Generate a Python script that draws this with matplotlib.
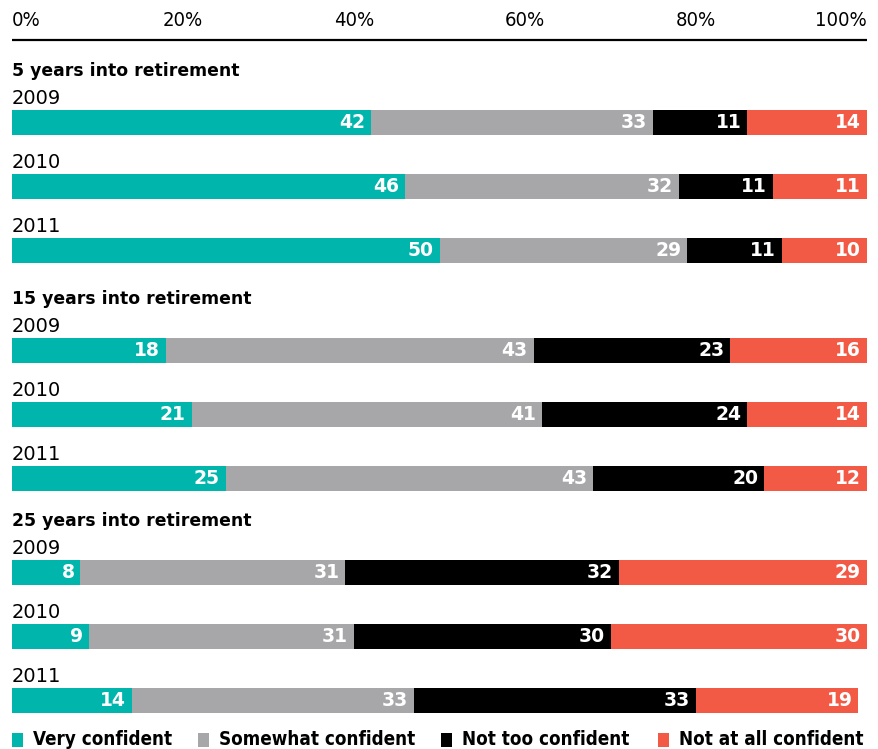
import matplotlib
matplotlib.use("Agg")
import matplotlib.pyplot as plt

# survey shares (%) by horizon and year
groups = ["5 years into retirement", "15 years into retirement", "25 years into retirement"]
years = ["2009", "2010", "2011"]
categories = ["Very confident", "Somewhat confident", "Not too confident", "Not at all confident"]
very = [[42, 46, 50], [18, 21, 25], [8, 9, 14]]
somewhat = [[33, 32, 29], [43, 41, 43], [31, 31, 33]]
not_too = [[11, 11, 11], [23, 24, 20], [32, 30, 33]]
not_at_all = [[14, 11, 10], [16, 14, 12], [29, 30, 19]]
ticks = [0, 20, 40, 60, 80, 100]

COLORS = ["#00b5ac", "#a7a7aa", "#000000", "#f25a45"]

W, H = 879, 749
X0, X1 = 12, 867
PX = (X1 - X0) / 100.0          # pixels per percent

fig = plt.figure(figsize=(W / 100, H / 100), dpi=100)
ax = fig.add_axes([0, 0, 1, 1])
ax.set_xlim(-X0 / PX, (W - X0) / PX)
ax.set_ylim(H, 0)
ax.axis("off")

# top scale
for t in ticks:
    ha = "left" if t == 0 else ("right" if t == 100 else "center")
    ax.text(t, 21, f"{t}%", ha=ha, va="center", fontsize=14.5, fontstretch="condensed")
ax.plot([0, 100], [40, 40], color="black", lw=1.6, solid_capstyle="butt")

series = [very, somewhat, not_too, not_at_all]
group_top = [71, 299, 521]
BAR_H = 25
for g, name in enumerate(groups):
    gy = group_top[g]
    ax.text(0, gy, name, ha="left", va="center", fontsize=12.4, fontweight="bold")
    for k, yr in enumerate(years):
        ly = gy + 27 + 64 * k
        by = gy + 51.5 + 64 * k
        ax.text(0, ly, yr, ha="left", va="center", fontsize=14)
        left = 0
        for s, vals in enumerate(series):
            v = vals[g][k]
            ax.barh(by, v, left=left, height=BAR_H, color=COLORS[s], lw=0)
            ax.text(left + v - 0.7, by + 0.5, str(v), ha="right", va="center",
                    color="white", fontsize=13.5, fontweight="bold")
            left += v

# legend row along the bottom edge
leg_x = [0, 21.8, 50.2, 75.5]
for s, lab in enumerate(categories):
    ax.add_patch(plt.Rectangle((leg_x[s], 733), 11 / PX, 14, color=COLORS[s], lw=0))
    ax.text(leg_x[s] + 21 / PX, 739.5, lab, ha="left", va="center", fontsize=13.5,
            fontweight="bold", fontstretch="condensed")

fig.savefig("out.png", dpi=100)
